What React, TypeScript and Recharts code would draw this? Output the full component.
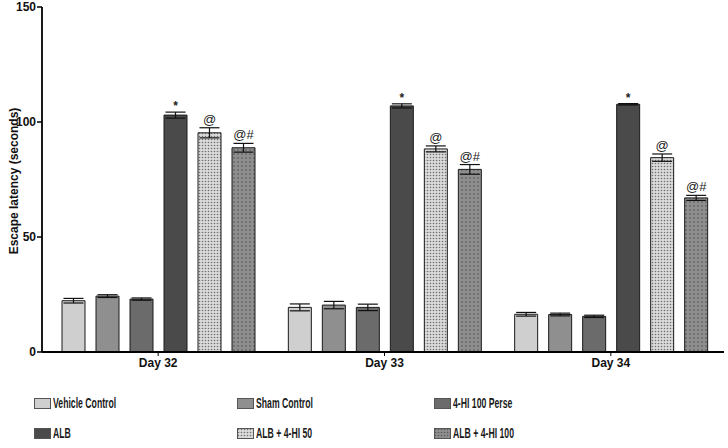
import { Bar, BarChart, ErrorBar, LabelList, XAxis, YAxis } from "recharts";

const days = ["Day 32", "Day 33", "Day 34"];

const vehicle = [22.3, 19.4, 16.4];
const vehicleErr = [1.0, 1.5, 0.8];
const sham = [24.3, 20.4, 16.3];
const shamErr = [0.6, 1.6, 0.6];
const perse = [23.0, 19.4, 15.5];
const perseErr = [0.5, 1.4, 0.5];
const alb = [103.0, 107.0, 107.7];
const albErr = [1.3, 0.9, 0.3];
const alb50 = [95.3, 88.3, 84.5];
const alb50Err = [2.2, 1.3, 1.6];
const alb100 = [88.8, 79.4, 67.0];
const alb100Err = [1.9, 2.1, 1.1];

const albMarks = ["*", "*", "*"];
const alb50Marks = ["@", "@", "@"];
const alb100Marks = ["@#", "@#", "@#"];

const yTicks = [0, 50, 100, 150];

const rows = days.map((day, i) => ({
  day,
  vehicle: vehicle[i],
  vehicleErr: vehicleErr[i],
  sham: sham[i],
  shamErr: shamErr[i],
  perse: perse[i],
  perseErr: perseErr[i],
  alb: alb[i],
  albErr: albErr[i],
  alb50: alb50[i],
  alb50Err: alb50Err[i],
  alb100: alb100[i],
  alb100Err: alb100Err[i],
}));

const FONT = "Arial, 'Liberation Sans', Helvetica, sans-serif";

const CHART_W = 728;
const CHART_H = 372;
const TOP = 7;
const PLOT_H = 345;
const Y_MAX = 150;

const series = [
  { key: "vehicle", name: "Vehicle Control", fill: "#cfcfcf" },
  { key: "sham", name: "Sham Control", fill: "#8f8f8f" },
  { key: "perse", name: "4-HI 100 Perse", fill: "#6b6b6b" },
  { key: "alb", name: "ALB", fill: "#4a4a4a" },
  { key: "alb50", name: "ALB + 4-HI 50", fill: "url(#dots50)" },
  { key: "alb100", name: "ALB + 4-HI 100", fill: "url(#dots100)" },
];

const marksByKey: Record<string, string[]> = {
  alb: albMarks,
  alb50: alb50Marks,
  alb100: alb100Marks,
};
const errByKey: Record<string, number[]> = {
  alb: albErr,
  alb50: alb50Err,
  alb100: alb100Err,
};

function markLabel(key: string) {
  return (props: any) => {
    const { x, y, width, index } = props;
    const mark = marksByKey[key][index];
    const errPx = (errByKey[key][index] * PLOT_H) / Y_MAX;
    const isStar = mark === "*";
    return (
      <text
        x={Number(x) + Number(width) / 2}
        y={Number(y) - errPx - (isStar ? 2 : 4)}
        textAnchor="middle"
        fontFamily={FONT}
        fontSize={isStar ? 12 : 13}
        fontWeight={isStar ? "bold" : "normal"}
        fill="#222"
      >
        {mark}
      </text>
    );
  };
}

function YLabel() {
  const cy = 181;
  return (
    <text
      x={14}
      y={cy}
      transform={`rotate(-90 14 ${cy})`}
      textAnchor="middle"
      dominantBaseline="central"
      fontFamily={FONT}
      fontSize={12}
      fontWeight="bold"
      fill="#111"
    >
      Escape latency (seconds)
    </text>
  );
}

function Swatch({ fill, id }: { fill: string; id: string }) {
  const light = id === "alb50";
  return (
    <svg width={17} height={11} style={{ marginRight: 2, flex: "none" }}>
      <defs>
        <pattern id={`lg-${id}`} width={3} height={3} patternUnits="userSpaceOnUse">
          <rect width={3} height={3} fill={light ? "#dadada" : "#8e8e8e"} />
          <circle cx={1.5} cy={1.5} r={0.8} fill={light ? "#707070" : "#5a5a5a"} />
        </pattern>
      </defs>
      <rect
        x={0.5}
        y={0.5}
        width={16}
        height={10}
        fill={fill.startsWith("url") ? `url(#lg-${id})` : fill}
        stroke="#555"
        strokeWidth={1}
      />
    </svg>
  );
}

function LegendBlock() {
  const cols = [34, 237, 434];
  const rowsY = [395, 425];
  return (
    <div style={{ position: "absolute", left: 0, top: 0, width: CHART_W, height: 448 }}>
      {series.map((s, i) => (
        <div
          key={s.key}
          style={{
            position: "absolute",
            left: cols[i % 3],
            top: rowsY[Math.floor(i / 3)],
            display: "flex",
            alignItems: "center",
            fontFamily: FONT,
            fontSize: 14,
            fontWeight: "bold",
            color: "#1a1a1a",
            whiteSpace: "nowrap",
          }}
        >
          <Swatch fill={s.fill} id={s.key} />
          <span style={{ display: "inline-block", transform: "scaleX(0.62)", transformOrigin: "left center" }}>
            {s.name}
          </span>
        </div>
      ))}
    </div>
  );
}

export default function App() {
  return (
    <div style={{ position: "absolute", left: 0, top: 0, width: CHART_W, height: 448, background: "#fff" }}>
      <BarChart
        width={CHART_W}
        height={CHART_H}
        data={rows}
        margin={{ top: TOP, right: 4, bottom: 0, left: 0 }}
        barCategoryGap={19}
        barGap={11}
        barSize={23}
      >
        <defs>
          <pattern id="dots50" width={3} height={3} patternUnits="userSpaceOnUse">
            <rect width={3} height={3} fill="#dadada" />
            <circle cx={1.5} cy={1.5} r={0.8} fill="#707070" />
          </pattern>
          <pattern id="dots100" width={4} height={4} patternUnits="userSpaceOnUse">
            <rect width={4} height={4} fill="#8e8e8e" />
            <circle cx={2} cy={2} r={0.8} fill="#4e4e4e" />
          </pattern>
        </defs>
        <XAxis
          dataKey="day"
          height={20}
          padding={{ left: 3, right: 0 }}
          axisLine={{ stroke: "#000", strokeWidth: 1.8 }}
          tickLine={{ stroke: "#000", strokeWidth: 1 }}
          tickSize={4}
          tick={{ fontFamily: FONT, fontSize: 12, fontWeight: "bold", fill: "#111" }}
        />
        <YAxis
          width={42}
          domain={[0, Y_MAX]}
          ticks={yTicks}
          interval={0}
          axisLine={{ stroke: "#000", strokeWidth: 1.8 }}
          tickLine={{ stroke: "#000", strokeWidth: 1.5 }}
          tickSize={5}
          tickMargin={1}
          tick={{ fontFamily: FONT, fontSize: 12, fontWeight: "bold", fill: "#111" }}
          label={<YLabel />}
        />
        {series.map((s) => (
          <Bar
            key={s.key}
            dataKey={s.key}
            name={s.name}
            fill={s.fill}
            stroke="#1a1a1a"
            strokeWidth={1}
            isAnimationActive={false}
          >
            <ErrorBar dataKey={`${s.key}Err`} width={10} stroke="#111" strokeWidth={1.2} />
            {marksByKey[s.key] && <LabelList dataKey={s.key} content={markLabel(s.key)} />}
          </Bar>
        ))}
      </BarChart>
      <LegendBlock />
    </div>
  );
}
